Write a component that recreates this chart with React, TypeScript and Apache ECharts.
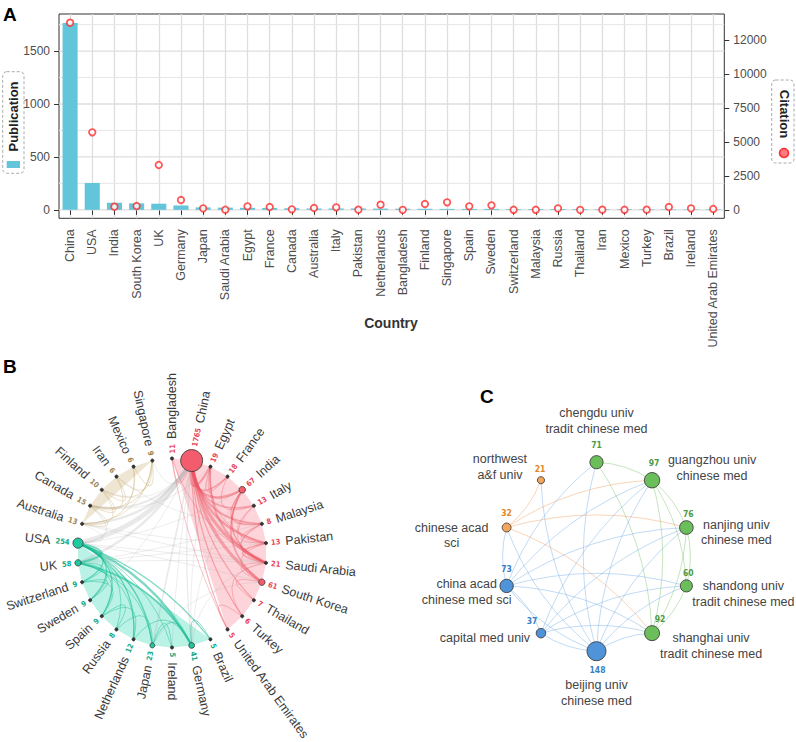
import React, { useEffect, useRef } from 'react';
import * as echarts from 'echarts';

// ---------------- Panel A data ----------------
const COUNTRIES = ['China', 'USA', 'India', 'South Korea', 'UK', 'Germany', 'Japan', 'Saudi Arabia', 'Egypt', 'France', 'Canada', 'Australia', 'Italy', 'Pakistan', 'Netherlands', 'Bangladesh', 'Finland', 'Singapore', 'Spain', 'Sweden', 'Switzerland', 'Malaysia', 'Russia', 'Thailand', 'Iran', 'Mexico', 'Turkey', 'Brazil', 'Ireland', 'United Arab Emirates'];
const PUBLICATIONS = [1765, 254, 67, 61, 58, 41, 23, 21, 19, 18, 15, 13, 13, 13, 12, 11, 10, 9, 9, 9, 9, 8, 8, 7, 6, 6, 6, 5, 5, 5];
const CITATIONS = [13770, 5710, 245, 294, 3310, 735, 122, 20, 270, 220, 50, 147, 196, 25, 392, 10, 441, 564, 270, 343, 15, 15, 122, 10, 25, 15, 25, 220, 122, 75];
const PUB_TICKS = [0, 500, 1000, 1500];
const PUB_MINOR = [250, 750, 1250, 1750];
const CIT_TICKS = [0, 2500, 5000, 7500, 10000, 12500];
const CIT_TICK_LABELS = ['0', '2500', '5000', '7500', '10000', '12000'];
const X_TITLE = 'Country';

// ---------------- Panel B data (clockwise from top) ----------------
const B_ORDER = ['Bangladesh', 'China', 'Egypt', 'France', 'India', 'Italy', 'Malaysia', 'Pakistan', 'Saudi Arabia', 'South Korea', 'Thailand', 'Turkey', 'United Arab Emirates', 'Brazil', 'Germany', 'Ireland', 'Japan', 'Netherlands', 'Russia', 'Spain', 'Sweden', 'Switzerland', 'UK', 'USA', 'Australia', 'Canada', 'Finland', 'Iran', 'Mexico', 'Singapore'];
const B_CLUSTER = [0, 0, 0, 0, 0, 0, 0, 0, 0, 0, 0, 0, 0, 1, 1, 1, 1, 1, 1, 1, 1, 1, 1, 1, 2, 2, 2, 2, 2, 2];
const B_LINKS_IN: [string, string, number][] = [
  ['China', 'Egypt', 3], ['China', 'France', 2], ['China', 'India', 3], ['China', 'Italy', 2], ['China', 'Malaysia', 2.5],
  ['China', 'Pakistan', 3], ['China', 'Saudi Arabia', 4], ['China', 'South Korea', 4], ['China', 'Thailand', 1.5],
  ['China', 'Turkey', 1.5], ['China', 'United Arab Emirates', 1.5], ['China', 'Bangladesh', 1],
  ['Bangladesh', 'United Arab Emirates', 1], ['Bangladesh', 'Saudi Arabia', 1], ['Egypt', 'Saudi Arabia', 2.5],
  ['Egypt', 'Pakistan', 1], ['India', 'Saudi Arabia', 2], ['India', 'South Korea', 2], ['India', 'Malaysia', 1.5],
  ['Italy', 'Pakistan', 1], ['France', 'Italy', 1], ['Malaysia', 'Pakistan', 1], ['Malaysia', 'Saudi Arabia', 1.5],
  ['Pakistan', 'Saudi Arabia', 2], ['Saudi Arabia', 'South Korea', 1], ['Pakistan', 'South Korea', 1],
  ['Saudi Arabia', 'Turkey', 1], ['South Korea', 'Thailand', 1], ['Egypt', 'France', 1], ['Turkey', 'United Arab Emirates', 1],
  ['Italy', 'Saudi Arabia', 1], ['Egypt', 'India', 1],
  ['USA', 'UK', 3], ['USA', 'Germany', 3], ['USA', 'Switzerland', 1.5], ['USA', 'Sweden', 1.5], ['USA', 'Spain', 1.5],
  ['USA', 'Russia', 1], ['USA', 'Netherlands', 1.5], ['USA', 'Japan', 2], ['USA', 'Ireland', 1], ['USA', 'Brazil', 1.5],
  ['UK', 'Germany', 2], ['UK', 'Spain', 1], ['UK', 'Sweden', 1], ['UK', 'Netherlands', 1], ['UK', 'Switzerland', 1],
  ['UK', 'Japan', 1], ['Germany', 'Netherlands', 1], ['Germany', 'Japan', 1], ['Brazil', 'Germany', 1],
  ['Russia', 'Spain', 1], ['Sweden', 'Switzerland', 1], ['Japan', 'Russia', 1], ['Ireland', 'Japan', 1],
  ['Netherlands', 'Spain', 1], ['Spain', 'Switzerland', 1],
  ['Australia', 'Canada', 1], ['Australia', 'Finland', 1], ['Australia', 'Singapore', 1], ['Australia', 'Mexico', 1],
  ['Canada', 'Finland', 1], ['Canada', 'Iran', 1], ['Canada', 'Mexico', 1], ['Canada', 'Singapore', 1],
  ['Finland', 'Iran', 1], ['Iran', 'Singapore', 1], ['Mexico', 'Singapore', 1], ['Finland', 'Singapore', 1],
];
const B_LINKS_OUT: [string, string, number][] = [
  ['China', 'USA', 6], ['China', 'UK', 3], ['China', 'Australia', 3], ['China', 'Canada', 2.5], ['China', 'Japan', 2],
  ['China', 'Germany', 1.5], ['China', 'Singapore', 1], ['China', 'Finland', 1], ['China', 'Sweden', 1], ['China', 'Ireland', 1],
  ['USA', 'Canada', 1.5], ['USA', 'Australia', 1], ['USA', 'Saudi Arabia', 1], ['USA', 'India', 1], ['USA', 'South Korea', 1],
  ['UK', 'Saudi Arabia', 1], ['UK', 'Pakistan', 1], ['UK', 'Malaysia', 1], ['Germany', 'Saudi Arabia', 1],
  ['Egypt', 'Germany', 1], ['Germany', 'India', 1], ['Australia', 'Saudi Arabia', 1], ['Japan', 'South Korea', 1],
  ['Australia', 'Pakistan', 1], ['Canada', 'Egypt', 1], ['Iran', 'Malaysia', 1],
];

// ---------------- Panel C data (clockwise from top) ----------------
const C_INST = ['chengdu univ\ntradit chinese med', 'guangzhou univ\nchinese med', 'nanjing univ\nchinese med', 'shandong univ\ntradit chinese med', 'shanghai univ\ntradit chinese med', 'beijing univ\nchinese med', 'capital med univ', 'china acad\nchinese med sci', 'chinese acad\nsci', 'northwest\na&f univ'];
const C_DOCS = [71, 97, 76, 60, 92, 148, 37, 73, 32, 21];
const C_CLUSTER = [0, 0, 0, 0, 0, 1, 1, 1, 2, 2];
const C_LINKS: [number, number][] = [
  [0, 1], [0, 4], [1, 2], [1, 3], [1, 4], [2, 3], [2, 4], [3, 4],
  [5, 0], [5, 1], [5, 2], [5, 3], [5, 4], [5, 6], [5, 7], [5, 8], [5, 9],
  [7, 0], [7, 1], [7, 2], [7, 3], [7, 4], [7, 6], [7, 8],
  [6, 1], [6, 2], [6, 3], [6, 4],
  [8, 1], [8, 2], [8, 4], [9, 8],
];

// ---------------- styles ----------------
const FONT = '"Liberation Sans", Arial, Helvetica, sans-serif';
const NARROW = '"Liberation Sans Narrow", "DejaVu Sans Condensed", "Liberation Sans", sans-serif';
const BAR_COLOR = '#63c5da';
const CIT_COLOR = '#ff2b2b';
const GRID_MAJOR = '#dedede';
const GRID_MINOR = '#e6e6e6';
const B_NODE_COLORS = ['#f25c6c', '#1ec9a0', '#d9c49a'];
const B_NUM_COLORS = ['#e8455a', '#12a886', '#9c8450'];
const B_HULL_COLORS = ['rgba(248,160,170,0.45)', 'rgba(40,215,175,0.32)', 'rgba(215,195,150,0.42)'];
const B_EDGE_COLORS = ['rgba(236,80,96,0.42)', 'rgba(18,185,145,0.55)', 'rgba(205,180,125,0.5)'];
const B_GREY_EDGE = 'rgba(175,175,175,0.28)';
const C_NODE_COLORS = ['#6bbf5b', '#4f93d8', '#f5a55a'];
const C_NUM_COLORS = ['#4f9a3f', '#3b7dc4', '#e0872a'];
const C_EDGE_COLORS = ['rgba(110,190,95,0.4)', 'rgba(95,160,225,0.38)', 'rgba(240,150,80,0.4)'];
const C_NAME_OFFSET = [[0, -41], [60, -12], [50, 5], [57, 8], [59, 13], [0, 42], [-56, 5], [-40, 6], [-55, 8], [-41, -13]];
const C_NUM_OFFSET = [[0, -17], [2, -17], [2, -13], [2, -12.5], [8, -14], [1, 19], [-9, -12], [0, -17], [0, -14.5], [-1, -11]];

const pubOf = (c: string) => PUBLICATIONS[COUNTRIES.indexOf(c)];
const bSize = (v: number) => (v <= 21 ? 3.2 : 3 + 19 * Math.sqrt((v - 5) / 1760));

function textStyle(s: any) {
  return { ...s, textAlign: s.align, textVerticalAlign: s.verticalAlign };
}

function buildOption(): any {
  const bArc = (within: boolean) => (params: any, api: any) => {
    const a = api.value(1);
    const b = api.value(2);
    const w = api.value(3);
    const p1 = api.coord([1, a]);
    const p2 = api.coord([1, b]);
    const c = api.coord([0, a]);
    const mx = (p1[0] + p2[0]) / 2;
    const my = (p1[1] + p2[1]) / 2;
    const k = 0.5;
    return {
      type: 'bezierCurve',
      shape: { x1: p1[0], y1: p1[1], x2: p2[0], y2: p2[1], cpx1: mx + (c[0] - mx) * k, cpy1: my + (c[1] - my) * k },
      style: { stroke: within ? B_EDGE_COLORS[B_CLUSTER[a]] : B_GREY_EDGE, lineWidth: w * 0.8, fill: 'none' },
    };
  };

  return {
    animation: false,
    backgroundColor: '#ffffff',
    textStyle: { fontFamily: FONT },
    grid: {
      left: 59, right: 71.7, top: 14, bottom: 523.7, show: true, borderColor: '#333', borderWidth: 1,
      backgroundColor: 'transparent', containLabel: false, outerBoundsMode: 'none',
    },
    xAxis: {
      type: 'category', data: COUNTRIES, gridIndex: 0,
      axisLine: { show: false },
      axisTick: { show: true, alignWithLabel: true, length: 5, lineStyle: { color: '#333' } },
      axisLabel: { rotate: 90, interval: 0, margin: 11, fontSize: 12.5, color: '#4d4d4d', fontFamily: FONT },
      splitLine: { show: true, alignWithLabel: true, lineStyle: { color: GRID_MAJOR, width: 1.3 } },
    },
    yAxis: [
      {
        type: 'value', min: -80, max: 1850, position: 'left', gridIndex: 0,
        axisLine: { show: false }, splitLine: { show: false },
        axisTick: { show: true, customValues: PUB_TICKS, length: 5, lineStyle: { color: '#333' } },
        axisLabel: { customValues: PUB_TICKS, fontSize: 12, color: '#4d4d4d', margin: 9, fontFamily: FONT, formatter: (v: number) => String(v) },
      },
      {
        type: 'value', min: -610, max: 14410, position: 'right', gridIndex: 0,
        axisLine: { show: false }, splitLine: { show: false },
        axisTick: { show: true, customValues: CIT_TICKS, length: 5, lineStyle: { color: '#333' } },
        axisLabel: {
          customValues: CIT_TICKS, fontSize: 12, color: '#4d4d4d', margin: 9, fontFamily: FONT,
          formatter: (v: number) => {
            const i = CIT_TICKS.indexOf(v);
            return i >= 0 ? CIT_TICK_LABELS[i] : '';
          },
        },
      },
    ],
    polar: [
      { center: [172, 553], radius: 94.5 },
      { center: [596.5, 556.7], radius: 94.5 },
    ],
    angleAxis: [
      { polarIndex: 0, type: 'category', data: B_ORDER, startAngle: 96, show: false },
      { polarIndex: 1, type: 'category', data: C_INST, startAngle: 108, show: false },
    ],
    radiusAxis: [
      { polarIndex: 0, type: 'value', min: 0, max: 1, show: false },
      { polarIndex: 1, type: 'value', min: 0, max: 1, show: false },
    ],
    series: [
      // ---- Panel A horizontal grid lines, through the left value scale
      {
        type: 'custom', coordinateSystem: 'cartesian2d', xAxisIndex: 0, yAxisIndex: 0, silent: true, z: 1,
        data: [...PUB_TICKS.map((v) => [0, v, 1]), ...PUB_MINOR.map((v) => [0, v, 0])],
        encode: { x: 0, y: 1 },
        renderItem: (params: any, api: any) => {
          const y = api.coord([0, api.value(1)])[1];
          const cs = params.coordSys;
          const major = api.value(2) === 1;
          return {
            type: 'line',
            shape: { x1: cs.x, y1: y, x2: cs.x + cs.width, y2: y },
            style: { stroke: major ? GRID_MAJOR : GRID_MINOR, lineWidth: major ? 1.3 : 1, fill: 'none' },
          };
        },
      },
      {
        type: 'bar', name: 'Publication', data: PUBLICATIONS, xAxisIndex: 0, yAxisIndex: 0,
        barWidth: '68%', itemStyle: { color: BAR_COLOR }, z: 3,
      },
      {
        type: 'scatter', name: 'Citation', data: CITATIONS, xAxisIndex: 0, yAxisIndex: 1,
        symbol: 'circle', symbolSize: 6.5, z: 5,
        itemStyle: { color: '#ffffff', borderColor: CIT_COLOR, borderWidth: 1.8 },
      },
      // ---- Panel B hulls
      {
        type: 'custom', coordinateSystem: 'polar', polarIndex: 0, silent: true, z: 1,
        data: [[1, 0], [1, 1], [1, 2]], encode: { radius: 0, angle: 1 },
        renderItem: (params: any, api: any) => {
          const g = params.dataIndex;
          const pts = B_ORDER.map((_, i) => i).filter((i) => B_CLUSTER[i] === g).map((i) => api.coord([1, i]));
          return { type: 'polygon', shape: { points: pts }, style: { fill: B_HULL_COLORS[g], stroke: 'none' } };
        },
      },
      // ---- Panel B edges between clusters
      {
        type: 'custom', coordinateSystem: 'polar', polarIndex: 0, silent: true, z: 2,
        data: B_LINKS_OUT.map(([a, b, w]) => [1, B_ORDER.indexOf(a), B_ORDER.indexOf(b), w]),
        encode: { radius: 0, angle: 1 },
        renderItem: bArc(false),
      },
      // ---- Panel B edges within clusters
      {
        type: 'custom', coordinateSystem: 'polar', polarIndex: 0, silent: true, z: 3,
        data: B_LINKS_IN.map(([a, b, w]) => [1, B_ORDER.indexOf(a), B_ORDER.indexOf(b), w]),
        encode: { radius: 0, angle: 1 },
        renderItem: bArc(true),
      },
      // ---- Panel B nodes + labels
      {
        type: 'custom', coordinateSystem: 'polar', polarIndex: 0, silent: true, z: 4,
        data: B_ORDER.map((_, i) => [1, i]), encode: { radius: 0, angle: 1 },
        renderItem: (params: any, api: any) => {
          const i = params.dataIndex;
          const name = B_ORDER[i];
          const v = pubOf(name);
          const g = B_CLUSTER[i];
          const p = api.coord([1, i]);
          const c = api.coord([0, i]);
          const ang = Math.atan2(c[1] - p[1], p[0] - c[0]);
          const size = bSize(v);
          const right = i <= 15;
          const d = size / 2 + 3.5;
          const tx = p[0] + Math.cos(ang) * d;
          const ty = p[1] - Math.sin(ang) * d;
          const rich = {
            n: { fontSize: 7.5, fontWeight: 'bold', fontFamily: NARROW, fill: B_NUM_COLORS[g], padding: right ? [0, 5, 0, 0] : [0, 0, 0, 5] },
            c: { fontSize: 12.5, fontFamily: FONT, fill: '#3a3a3a' },
          };
          return {
            type: 'group',
            children: [
              {
                type: 'circle', shape: { cx: p[0], cy: p[1], r: size / 2 },
                style: { fill: v <= 21 ? '#333333' : B_NODE_COLORS[g], stroke: '#333333', lineWidth: 0.8 },
              },
              {
                type: 'text', x: tx, y: ty, rotation: right ? ang : ang - Math.PI,
                style: textStyle({
                  text: right ? `{n|${v}}{c|${name}}` : `{c|${name}}{n|${v}}`,
                  rich, align: right ? 'left' : 'right', verticalAlign: 'middle',
                }),
              },
            ],
          };
        },
      },
      // ---- Panel C edges
      {
        type: 'custom', coordinateSystem: 'polar', polarIndex: 1, silent: true, z: 2,
        data: C_LINKS.map(([a, b]) => [1, a, b]), encode: { radius: 0, angle: 1 },
        renderItem: (params: any, api: any) => {
          const a = api.value(1);
          const b = api.value(2);
          const p1 = api.coord([1, a]);
          const p2 = api.coord([1, b]);
          const mx = (p1[0] + p2[0]) / 2;
          const my = (p1[1] + p2[1]) / 2;
          const cv = 0.14;
          return {
            type: 'bezierCurve',
            shape: { x1: p1[0], y1: p1[1], x2: p2[0], y2: p2[1], cpx1: mx - (p1[1] - p2[1]) * cv, cpy1: my - (p2[0] - p1[0]) * cv },
            style: { stroke: C_EDGE_COLORS[C_CLUSTER[a]], lineWidth: 1, fill: 'none' },
          };
        },
      },
      // ---- Panel C nodes
      {
        type: 'custom', coordinateSystem: 'polar', polarIndex: 1, silent: true, z: 4,
        data: C_INST.map((_, i) => [1, i]), encode: { radius: 0, angle: 1 },
        renderItem: (params: any, api: any) => {
          const i = params.dataIndex;
          const v = C_DOCS[i];
          const g = C_CLUSTER[i];
          const p = api.coord([1, i]);
          const r = 0.78 * Math.sqrt(v);
          return {
            type: 'group',
            children: [
              { type: 'circle', shape: { cx: p[0], cy: p[1], r }, style: { fill: C_NODE_COLORS[g], stroke: '#3d3d3d', lineWidth: 0.9 } },
              {
                type: 'text', x: p[0] + C_NUM_OFFSET[i][0], y: p[1] + C_NUM_OFFSET[i][1],
                style: textStyle({ text: String(v), fill: C_NUM_COLORS[g], font: `bold 8.5px ${NARROW}`, align: 'center', verticalAlign: 'middle' }),
              },
              {
                type: 'text', x: p[0] + C_NAME_OFFSET[i][0], y: p[1] + C_NAME_OFFSET[i][1],
                style: textStyle({ text: C_INST[i], fill: '#444444', font: `12.5px ${FONT}`, lineHeight: 15.5, align: 'center', verticalAlign: 'middle' }),
              },
            ],
          };
        },
      },
    ],
    graphic: [
      { type: 'text', x: 3, y: 5, style: textStyle({ text: 'A', font: `bold 19px ${FONT}`, fill: '#000', align: 'left', verticalAlign: 'top' }) },
      { type: 'text', x: 3, y: 357, style: textStyle({ text: 'B', font: `bold 19px ${FONT}`, fill: '#000', align: 'left', verticalAlign: 'top' }) },
      { type: 'text', x: 480, y: 387, style: textStyle({ text: 'C', font: `bold 19px ${FONT}`, fill: '#000', align: 'left', verticalAlign: 'top' }) },
      // x-axis title
      { type: 'text', x: 391, y: 323, style: textStyle({ text: X_TITLE, font: `bold 14px ${FONT}`, fill: '#333', align: 'center', verticalAlign: 'middle' }) },
      // left legend (Publication)
      { type: 'rect', shape: { x: 2.7, y: 71.7, width: 21.3, height: 101.6, r: 4 }, style: { fill: 'none', stroke: '#aaaaaa', lineWidth: 1, lineDash: [3, 2] } },
      { type: 'text', x: 13.6, y: 116.5, rotation: Math.PI / 2, style: textStyle({ text: 'Publication', font: `bold 13px ${FONT}`, fill: '#222', align: 'center', verticalAlign: 'middle' }) },
      { type: 'rect', shape: { x: 6.7, y: 161, width: 13.3, height: 7 }, style: { fill: BAR_COLOR } },
      // right legend (Citation)
      { type: 'rect', shape: { x: 771.7, y: 80, width: 22.3, height: 83, r: 4 }, style: { fill: 'none', stroke: '#aaaaaa', lineWidth: 1, lineDash: [3, 2] } },
      { type: 'text', x: 784, y: 114, rotation: -Math.PI / 2, style: textStyle({ text: 'Citation', font: `bold 13px ${FONT}`, fill: '#222', align: 'center', verticalAlign: 'middle' }) },
      { type: 'circle', shape: { cx: 784, cy: 153, r: 4.5 }, style: { fill: '#ff7a85', stroke: CIT_COLOR, lineWidth: 1.6 } },
    ],
  };
}

export default function App() {
  const ref = useRef<HTMLDivElement>(null);
  useEffect(() => {
    const chart = echarts.init(ref.current as HTMLDivElement, null, { renderer: 'svg' });
    chart.setOption(buildOption());
    return () => chart.dispose();
  }, []);
  return <div ref={ref} style={{ position: 'fixed', left: 0, top: 0, width: 796, height: 742, background: '#fff' }} />;
}
